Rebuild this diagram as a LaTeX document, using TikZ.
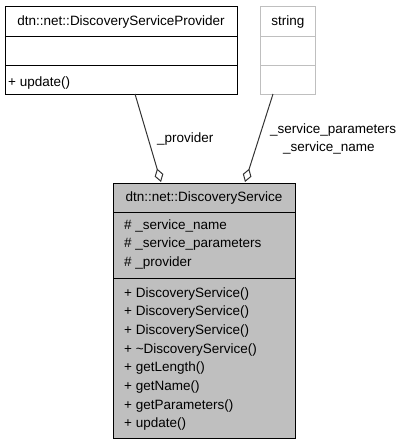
\documentclass[tikz,border=0pt]{standalone}
\usepackage{fontspec}
\setmainfont{Liberation Sans}
\usetikzlibrary{arrows.meta}
\definecolor{classgray}{RGB}{191,191,191}
\begin{document}
\begin{tikzpicture}[x=1pt,y=-1pt]
  \tikzset{classbox/.style={draw=black,line width=1pt,inner sep=0pt,anchor=north west}}
  \tikzset{member/.style={anchor=base west,inner sep=0pt,font=\fontsize{13.5}{16}\selectfont}}
  \tikzset{classtitle/.style={anchor=base,inner sep=0pt,font=\fontsize{13.5}{16}\selectfont}}
  \tikzset{aggredge/.style={draw=black!80,line width=1pt,-{Diamond[open,fill=white,length=14pt,width=9pt]}}}
  \tikzset{rolelabel/.style={anchor=base west,inner sep=0pt,font=\fontsize{13.5}{16}\selectfont}}
  \useasboundingbox (0,0) rectangle (401,445);
  % provider class
  \node[classbox,minimum width=232pt,minimum height=88pt] (prov) at (5,6) {};
  \draw[line width=1pt] (prov.west |- 0,36) -- (prov.east |- 0,36);
  \draw[line width=1pt] (prov.west |- 0,65) -- (prov.east |- 0,65);
  \node[classtitle] (provname) at (121,25) {dtn::net::DiscoveryServiceProvider};
  \node[member] (provm1) at (8,86) {+ update()};
  % string class
  \node[classbox,draw=classgray,minimum width=55pt,minimum height=88pt] (str) at (260,6) {};
  \draw[classgray,line width=1pt] (str.west |- 0,36) -- (str.east |- 0,36);
  \draw[classgray,line width=1pt] (str.west |- 0,65) -- (str.east |- 0,65);
  \node[classtitle] (strname) at (288,25) {string};
  % discovery service class
  \node[classbox,fill=classgray,minimum width=182pt,minimum height=255pt] (svc) at (113,183) {};
  \draw[line width=1pt] (svc.west |- 0,212) -- (svc.east |- 0,212);
  \draw[line width=1pt] (svc.west |- 0,278) -- (svc.east |- 0,278);
  \node[classtitle] (svcname) at (204,201) {dtn::net::DiscoveryService};
  \node[member] (svca1) at (124,229) {\# \_service\_name};
  \node[member] (svca2) at (124,247.7) {\# \_service\_parameters};
  \node[member] (svca3) at (124,266.4) {\# \_provider};
  \node[member] (svcm1) at (124,297) {+ DiscoveryService()};
  \node[member] (svcm2) at (124,315.7) {+ DiscoveryService()};
  \node[member] (svcm3) at (124,334.4) {+ DiscoveryService()};
  \node[member] (svcm4) at (124,353.1) {+ \textasciitilde DiscoveryService()};
  \node[member] (svcm5) at (124,371.8) {+ getLength()};
  \node[member] (svcm6) at (124,390.5) {+ getName()};
  \node[member] (svcm7) at (124,409.2) {+ getParameters()};
  \node[member] (svcm8) at (124,427.9) {+ update()};
  % aggregations
  \coordinate (provout) at (135,94);
  \coordinate (provin) at (161,182);
  \coordinate (strout) at (273,94);
  \coordinate (strin) at (245,182);
  \draw[aggredge] (provout) -- (provin);
  \draw[aggredge] (strout) -- (strin);
  \node[rolelabel] (provrole) at (157,142) {\_provider};
  \node[rolelabel] (paramrole) at (270,133) {\_service\_parameters};
  \node[rolelabel] (namerole) at (283,151) {\_service\_name};
\end{tikzpicture}
\end{document}
